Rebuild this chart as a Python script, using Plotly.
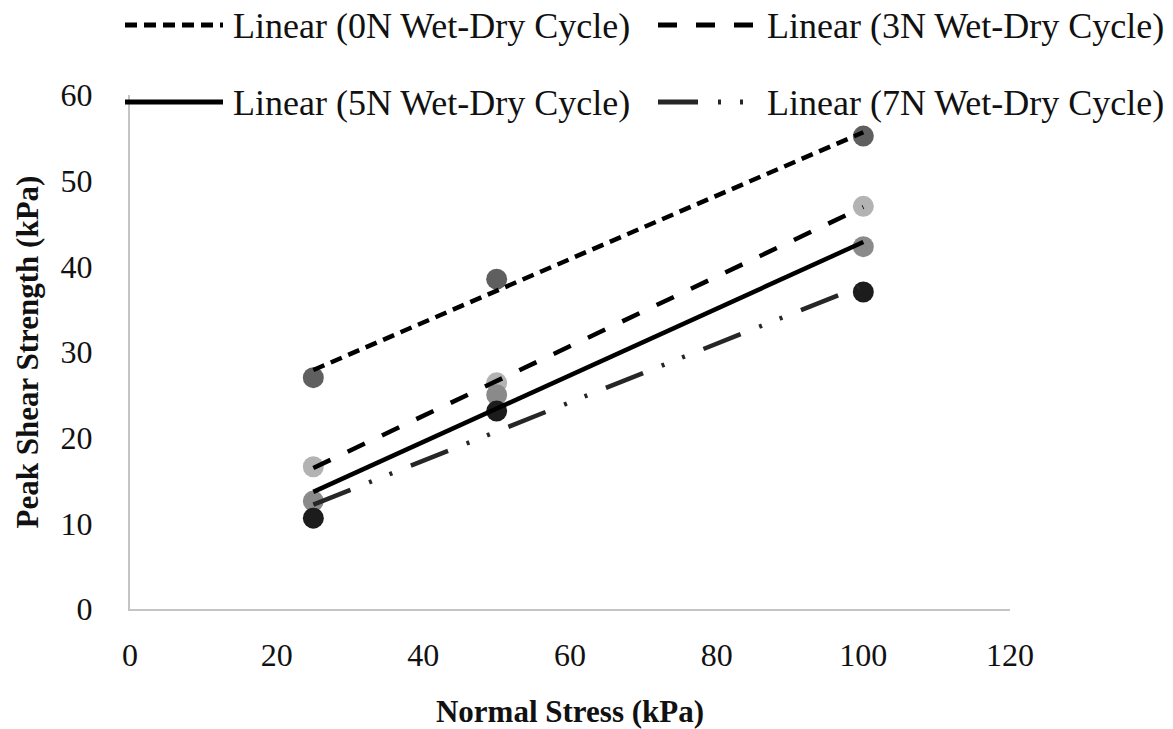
import numpy as np
import plotly.graph_objects as go

# Normal stress levels (kPa)
normal_stress = [25, 50, 100]

# Peak shear strength (kPa) for each number of wet-dry cycles
shear_0n = [27.0, 38.5, 55.2]
shear_3n = [16.6, 26.4, 47.0]
shear_5n = [12.6, 25.0, 42.3]
shear_7n = [10.6, 23.1, 37.0]

series_names = ["0N", "3N", "5N", "7N"]
series_values = [shear_0n, shear_3n, shear_5n, shear_7n]

x_ticks = [0, 20, 40, 60, 80, 100, 120]
y_ticks = [0, 10, 20, 30, 40, 50, 60]

marker_colors = ["#5f5f5f", "#b3b3b3", "#8a8a8a", "#1c1c1c"]
line_colors = ["#000000", "#000000", "#000000", "#262626"]
line_dashes = ["12px,7px", "19px,19px", "solid", "40px,20px,3px,19px,3px,20px"]

FONT = "Liberation Serif, Tinos, Times New Roman, Times, serif"
TEXT = "#111111"

fig = go.Figure()

# data points
for name, vals, col in zip(series_names, series_values, marker_colors):
    fig.add_trace(go.Scatter(
        x=normal_stress, y=vals, mode="markers",
        marker=dict(size=21, color=col, line=dict(width=0)),
        name=name, showlegend=False, hoverinfo="x+y",
    ))

# least-squares linear trend lines, drawn above the points
for name, vals, col, dash in zip(series_names, series_values, line_colors, line_dashes):
    slope, intercept = np.polyfit(normal_stress, vals, 1)
    xs = [min(normal_stress), max(normal_stress)]
    ys = [slope * v + intercept for v in xs]
    fig.add_trace(go.Scatter(
        x=xs, y=ys, mode="lines",
        line=dict(color=col, width=4.5, dash=dash),
        name=f"Linear ({name} Wet-Dry Cycle)", showlegend=False,
    ))

# legend drawn as line samples + labels above the plot area
W, H = 1173, 729
L, R, T, B = 130, 163, 95, 120
pw, ph = W - L - R, H - T - B


def px_x(px):
    return (px - L) / pw


def px_y(py):
    return (H - B - py) / ph


legend_items = [
    (0, 125, 223, 231, 25),
    (1, 658, 758, 765, 25),
    (2, 125, 223, 231, 102),
    (3, 658, 758, 765, 102),
]
for idx, x0, x1, tx, ty in legend_items:
    fig.add_shape(type="line", xref="paper", yref="paper",
                  x0=px_x(x0), x1=px_x(x1), y0=px_y(ty), y1=px_y(ty),
                  line=dict(color=line_colors[idx], width=5, dash=line_dashes[idx]))
    fig.add_annotation(xref="paper", yref="paper", x=px_x(tx), y=px_y(ty + 1),
                       xanchor="left", yanchor="middle", showarrow=False,
                       text=f"Linear ({series_names[idx]} Wet-Dry Cycle)",
                       font=dict(family=FONT, size=36, color=TEXT))

fig.update_layout(
    width=W, height=H,
    margin=dict(l=L, r=R, t=T, b=B, pad=0, autoexpand=False),
    plot_bgcolor="white", paper_bgcolor="white",
    showlegend=False,
    font=dict(family=FONT, color=TEXT),
)
fig.update_xaxes(
    range=[0, 120], tickvals=x_ticks, ticktext=[str(v) for v in x_ticks],
    showgrid=False, zeroline=False, showline=True, linecolor="#c4c4c4", linewidth=2,
    ticks="", ticklabelstandoff=17, automargin=False,
    tickfont=dict(family=FONT, size=32, color=TEXT),
    title=dict(text="<b>Normal Stress (kPa)</b>", standoff=28,
               font=dict(family=FONT, size=31, color=TEXT)),
)
fig.update_yaxes(
    range=[0, 60], tickvals=y_ticks, ticktext=[str(v) for v in y_ticks],
    showgrid=False, zeroline=False, showline=True, linecolor="#c4c4c4", linewidth=2,
    ticks="", ticklabelstandoff=29, automargin=False,
    tickfont=dict(family=FONT, size=32, color=TEXT),
    title=dict(text="<b>Peak Shear Strength (kPa)</b>", standoff=13,
               font=dict(family=FONT, size=31, color=TEXT)),
)

fig.write_html("out.html")
